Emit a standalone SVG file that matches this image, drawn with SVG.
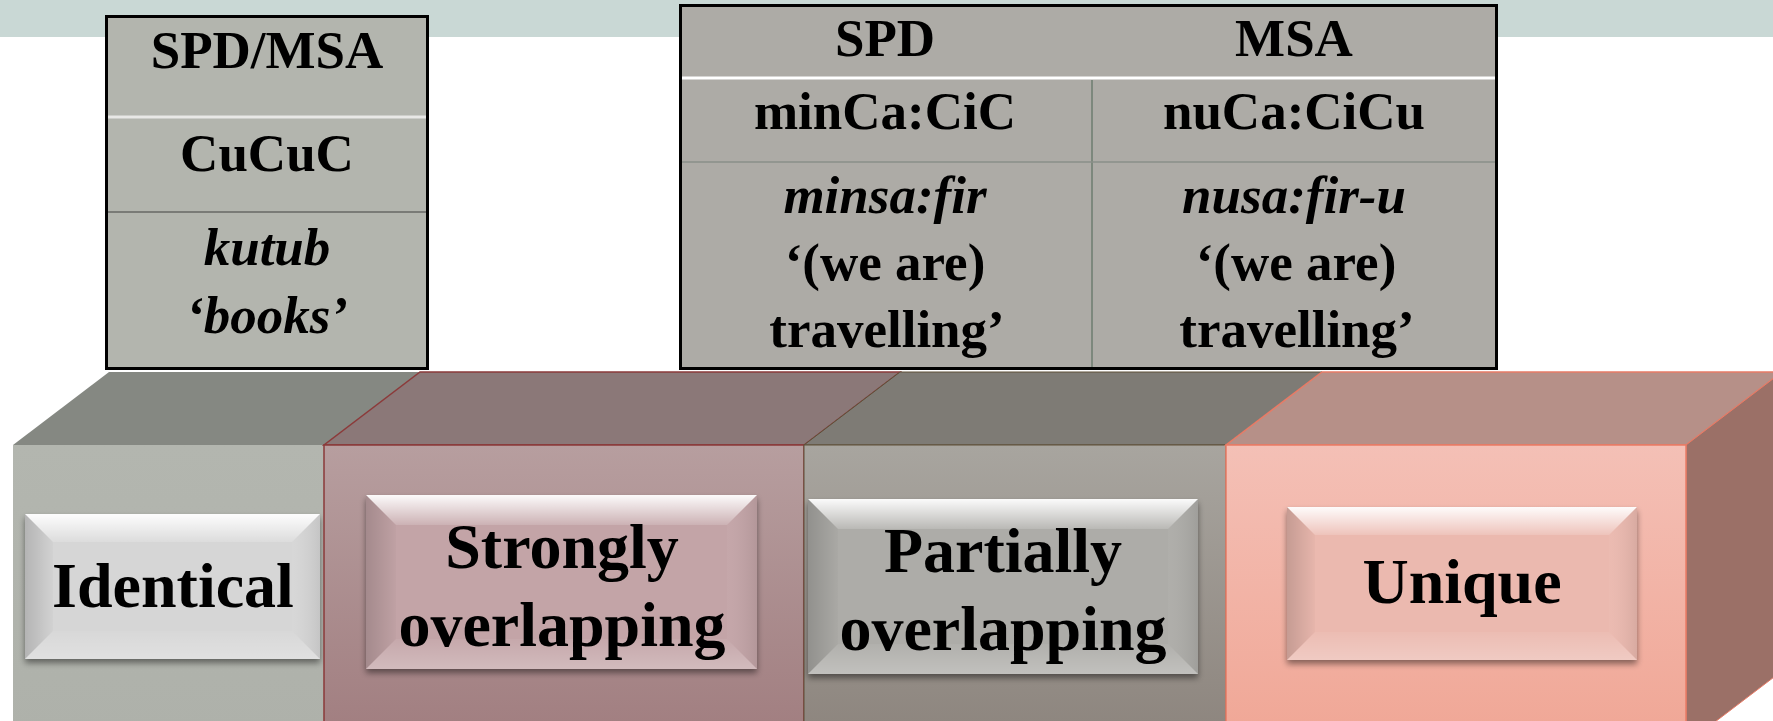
<svg xmlns="http://www.w3.org/2000/svg" width="1773" height="721" viewBox="0 0 1773 721">
  <defs>
    <linearGradient id="frontStrong" x1="0" y1="0" x2="0" y2="1">
      <stop offset="0" stop-color="#B79E9F"/>
      <stop offset="1" stop-color="#A17E80"/>
    </linearGradient>
    <linearGradient id="frontPartial" x1="0" y1="0" x2="0" y2="1">
      <stop offset="0" stop-color="#A8A59F"/>
      <stop offset="1" stop-color="#8D857E"/>
    </linearGradient>
    <linearGradient id="frontUnique" x1="0" y1="0" x2="0" y2="1">
      <stop offset="0" stop-color="#F4C0B6"/>
      <stop offset="1" stop-color="#F0A695"/>
    </linearGradient>
    <linearGradient id="frontIdent" x1="0" y1="0" x2="0" y2="1">
      <stop offset="0" stop-color="#B3B6AF"/>
      <stop offset="1" stop-color="#AEB1AA"/>
    </linearGradient>
    <!-- bevel shading overlays for the raised label plates -->
    <linearGradient id="bevTop" x1="0" y1="0" x2="0" y2="1">
      <stop offset="0" stop-color="#FFFFFF" stop-opacity="0.95"/>
      <stop offset="1" stop-color="#FFFFFF" stop-opacity="0.15"/>
    </linearGradient>
    <linearGradient id="bevLeft" x1="0" y1="0" x2="1" y2="0">
      <stop offset="0" stop-color="#000000" stop-opacity="0.16"/>
      <stop offset="1" stop-color="#000000" stop-opacity="0.02"/>
    </linearGradient>
    <linearGradient id="bevRight" x1="1" y1="0" x2="0" y2="0">
      <stop offset="0" stop-color="#000000" stop-opacity="0.08"/>
      <stop offset="1" stop-color="#FFFFFF" stop-opacity="0.03"/>
    </linearGradient>
    <linearGradient id="bevBottom" x1="0" y1="1" x2="0" y2="0">
      <stop offset="0" stop-color="#FFFFFF" stop-opacity="0.25"/>
      <stop offset="1" stop-color="#FFFFFF" stop-opacity="0.05"/>
    </linearGradient>
    <filter id="plateShadow" x="-10%" y="-10%" width="120%" height="130%">
      <feGaussianBlur in="SourceAlpha" stdDeviation="3"/>
      <feOffset dx="0" dy="4" result="b"/>
      <feComponentTransfer><feFuncA type="linear" slope="0.45"/></feComponentTransfer>
      <feMerge><feMergeNode/><feMergeNode in="SourceGraphic"/></feMerge>
    </filter>
  </defs>
  <style>
    text { font-family: "Liberation Serif", "Times New Roman", serif; font-weight: bold; fill: #000; text-anchor: middle; }
    .tbl { font-size: 53px; }
    .it { font-style: italic; }
    .btn { font-size: 64px; }
    .tb { fill: url(#bevTop); }
    .lb { fill: url(#bevLeft); }
    .rb { fill: url(#bevRight); }
    .bb { fill: url(#bevBottom); }
    .frame { stroke: #000; stroke-width: 3; }
  </style>

  <!-- background -->
  <rect x="0" y="0" width="1773" height="721" fill="#FFFFFF"/>
  <rect x="0" y="0" width="1773" height="37" fill="#C9D8D5"/>

  <!-- block: Identical -->
  <g id="identical">
    <polygon points="13,445 324,445 420,372 109,372" fill="#858882"/>
    <rect x="13" y="445" width="311" height="290" fill="url(#frontIdent)"/>
    <g filter="url(#plateShadow)">
      <rect x="25" y="514" width="295" height="145" fill="#D6D6D6"/>
      <polygon class="tb" points="25,514 320,514 292,542 53,542"/>
      <polygon class="lb" points="25,514 53,542 53,631 25,659"/>
      <polygon class="rb" points="320,514 292,542 292,631 320,659"/>
      <polygon class="bb" points="25,659 53,631 292,631 320,659"/>
    </g>
    <text class="btn" x="173" y="607">Identical</text>
  </g>

  <!-- block: Strongly overlapping -->
  <g id="strongly-overlapping">
    <polygon points="324,445 804,445 900,372 420,372" fill="#8B7878" stroke="#8B3A3A" stroke-width="1.5"/>
    <rect x="324" y="445" width="480" height="290" fill="url(#frontStrong)" stroke="#8B3A3A" stroke-width="1.5"/>
    <g filter="url(#plateShadow)">
      <rect x="366" y="495" width="391" height="174" fill="#C3A4A7"/>
      <polygon class="tb" points="366,495 757,495 727,525 396,525"/>
      <polygon class="lb" points="366,495 396,525 396,639 366,669"/>
      <polygon class="rb" points="757,495 727,525 727,639 757,669"/>
      <polygon class="bb" points="366,669 396,639 727,639 757,669"/>
    </g>
    <text class="btn" x="562" y="568" font-size="63">Strongly</text>
    <text class="btn" x="562" y="646">overlapping</text>
  </g>

  <!-- block: Partially overlapping -->
  <g id="partially-overlapping">
    <polygon points="804,445 1226,445 1322,372 900,372" fill="#7E7B75" stroke="#5E5038" stroke-width="1"/>
    <rect x="804" y="445" width="422" height="290" fill="url(#frontPartial)" stroke="#5E5038" stroke-width="1"/>
    <g filter="url(#plateShadow)">
      <rect x="808" y="499" width="390" height="175" fill="#ADACA8"/>
      <polygon class="tb" points="808,499 1198,499 1168,529 838,529"/>
      <polygon class="lb" points="808,499 838,529 838,644 808,674"/>
      <polygon class="rb" points="1198,499 1168,529 1168,644 1198,674"/>
      <polygon class="bb" points="808,674 838,644 1168,644 1198,674"/>
    </g>
    <text class="btn" x="1003" y="572">Partially</text>
    <text class="btn" x="1003" y="650">overlapping</text>
  </g>

  <!-- block: Unique -->
  <g id="unique">
    <polygon points="1226,445 1686,445 1782,372 1322,372" fill="#B69088" stroke="#E87B66" stroke-width="1.5"/>
    <polygon points="1686,445 1782,372 1782,671 1686,744" fill="#9B7067" stroke="#E87B66" stroke-width="1"/>
    <rect x="1226" y="445" width="460" height="300" fill="url(#frontUnique)" stroke="#E87B66" stroke-width="1.5"/>
    <g filter="url(#plateShadow)">
      <rect x="1287" y="507" width="350" height="153" fill="#EBB9AF"/>
      <polygon class="tb" points="1287,507 1637,507 1609,535 1315,535"/>
      <polygon class="lb" points="1287,507 1315,535 1315,632 1287,660"/>
      <polygon class="rb" points="1637,507 1609,535 1609,632 1637,660"/>
      <polygon class="bb" points="1287,660 1315,632 1609,632 1637,660"/>
    </g>
    <text class="btn" x="1462" y="603">Unique</text>
  </g>

  <!-- table: shared pattern (SPD/MSA) -->
  <g id="table-shared">
    <rect class="frame" x="106.5" y="16.5" width="321" height="352" fill="#B3B5AE"/>
    <line x1="108" y1="117" x2="426" y2="117" stroke="#E8E8E6" stroke-width="3"/>
    <line x1="108" y1="212" x2="426" y2="212" stroke="#7A7B77" stroke-width="2"/>
    <text class="tbl" x="267" y="68">SPD/MSA</text>
    <text class="tbl" x="267" y="171">CuCuC</text>
    <text class="tbl it" x="267" y="265">kutub</text>
    <text class="tbl it" x="267" y="333">‘books’</text>
  </g>

  <!-- table: SPD vs MSA patterns -->
  <g id="table-contrast">
    <rect class="frame" x="680.5" y="5.5" width="816" height="363" fill="#ADABA6"/>
    <line x1="682" y1="78" x2="1495" y2="78" stroke="#FFFFFF" stroke-width="3"/>
    <line x1="1092" y1="80" x2="1092" y2="367" stroke="#7D887D" stroke-width="2"/>
    <line x1="682" y1="162" x2="1495" y2="162" stroke="#8A8F88" stroke-width="1.5"/>
    <text class="tbl" x="885" y="56">SPD</text>
    <text class="tbl" x="1294" y="56">MSA</text>
    <text class="tbl" x="885" y="129">minCa:CiC</text>
    <text class="tbl" x="1294" y="129">nuCa:CiCu</text>
    <text class="tbl it" x="885" y="213">minsa:fir</text>
    <text class="tbl it" x="1294" y="213">nusa:fir-u</text>
    <text class="tbl" x="885" y="280">‘(we are)</text>
    <text class="tbl" x="1296" y="280">‘(we are)</text>
    <text class="tbl" x="887" y="347">travelling’</text>
    <text class="tbl" x="1297" y="347">travelling’</text>
  </g>
</svg>
